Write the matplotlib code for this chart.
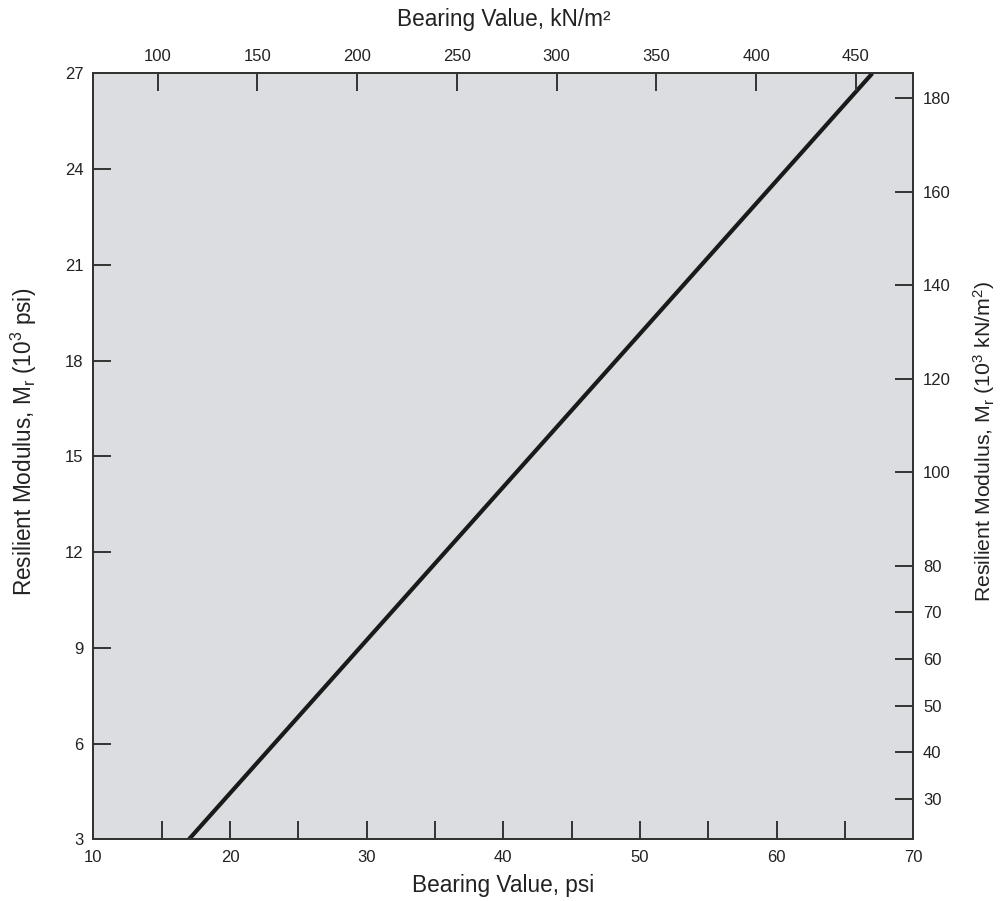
import matplotlib
matplotlib.use("Agg")
import matplotlib.pyplot as plt

# Correlation line: bearing value (psi) vs resilient modulus (10^3 psi)
bearing_psi = [17, 67]
modulus_ksi = [3, 27]

# Axis tick values
psi_ticks = [10, 20, 30, 40, 50, 60, 70]
psi_minor_ticks = [15, 25, 35, 45, 55, 65]
ksi_ticks = [3, 6, 9, 12, 15, 18, 21, 24, 27]
kn_ticks = [100, 150, 200, 250, 300, 350, 400, 450]
mpa_ticks = [30, 40, 50, 60, 70, 80, 100, 120, 140, 160, 180]

plt.rcParams["font.family"] = ["Liberation Sans", "DejaVu Sans"]
plt.rcParams["mathtext.fontset"] = "custom"
plt.rcParams["mathtext.rm"] = "Liberation Sans"
plt.rcParams["mathtext.it"] = "Liberation Sans"

TEXT = "#222222"
FRAME = "#333333"
BG = "#dcdde0"
TICK_FS = 12
LABEL_FS = 16.3

fig = plt.figure(figsize=(10.04, 9.01), dpi=100)
ax = fig.add_axes([0.0929, 0.0685, 0.8168, 0.8501])
ax.set_facecolor(BG)

ax.plot(bearing_psi, modulus_ksi, color="#1a1a1a", lw=3.0, solid_capstyle="butt", zorder=3)

ax.set_xlim(10, 70)
ax.set_ylim(3, 27)
ax.set_xticks(psi_ticks)
ax.set_xticks(psi_minor_ticks, minor=True)
ax.set_yticks(ksi_ticks)

tick_kw = dict(direction="in", length=13, width=1.4, color=FRAME,
               labelcolor=TEXT, labelsize=TICK_FS, pad=7)
ax.tick_params(axis="both", which="both", **tick_kw)
ax.tick_params(axis="x", which="major", pad=8)

for s in ax.spines.values():
    s.set_color(FRAME)
    s.set_linewidth(1.3)

ax.set_xlabel("Bearing Value, psi", fontsize=LABEL_FS, color=TEXT, labelpad=6)
ax.set_ylabel(r"Resilient Modulus, M$_\mathregular{r}$ (10$^\mathregular{3}$ psi)",
              fontsize=LABEL_FS, color=TEXT)
ax.yaxis.set_label_coords(-0.066, 0.519)

# Top axis: bearing value in kN/m²
ax_top = ax.twiny()
ax_top.set_xlim(67.7, 478.8)
ax_top.set_xticks(kn_ticks)
ax_top.tick_params(axis="x", **tick_kw)
ax_top.set_xlabel("Bearing Value, kN/m²", fontsize=LABEL_FS, color=TEXT, labelpad=16)

# Right axis: resilient modulus in 10^3 kN/m²
ax_right = ax.twinx()
ax_right.set_ylim(21.4, 185.35)
ax_right.set_yticks(mpa_ticks)
ax_right.tick_params(axis="y", **tick_kw)
ax_right.set_ylabel(r"Resilient Modulus, M$_\mathregular{r}$ (10$^\mathregular{3}$ kN/m$^\mathregular{2}$)",
                    fontsize=15.3, color=TEXT)
ax_right.yaxis.set_label_coords(1.071, 0.519)

for a in (ax_top, ax_right):
    for s in a.spines.values():
        s.set_color(FRAME)
        s.set_linewidth(1.3)

fig.savefig("out.png", dpi=100, facecolor="white")
